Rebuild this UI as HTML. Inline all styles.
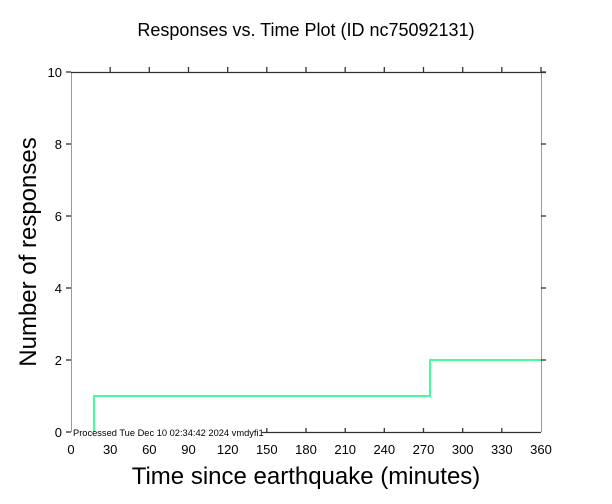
<html><head><style>body{margin:0;background:#fff}</style></head><body>
<svg width="612" height="504" xmlns="http://www.w3.org/2000/svg" font-family="Liberation Sans, sans-serif">
<rect width="612" height="504" fill="#fff"/>
<text x="306" y="36" font-size="18" text-anchor="middle">Responses vs. Time Plot (ID nc75092131)</text>
<line x1="71.5" y1="72" x2="71.5" y2="432" stroke="#999" stroke-width="1"/>
<line x1="541.5" y1="72" x2="541.5" y2="432" stroke="#999" stroke-width="1"/>
<line x1="71" y1="72.5" x2="546" y2="72.5" stroke="#333" stroke-width="1.2"/>
<line x1="262" y1="432.5" x2="541" y2="432.5" stroke="#333" stroke-width="1.2"/>
<g stroke="#333" stroke-width="1.3">
<line x1="110.2" y1="67" x2="110.2" y2="72"/><line x1="149.3" y1="67" x2="149.3" y2="72"/><line x1="188.5" y1="67" x2="188.5" y2="72"/><line x1="227.7" y1="67" x2="227.7" y2="72"/><line x1="266.8" y1="67" x2="266.8" y2="72"/><line x1="306" y1="67" x2="306" y2="72"/><line x1="345.2" y1="67" x2="345.2" y2="72"/><line x1="384.3" y1="67" x2="384.3" y2="72"/><line x1="423.5" y1="67" x2="423.5" y2="72"/><line x1="462.7" y1="67" x2="462.7" y2="72"/><line x1="501.8" y1="67" x2="501.8" y2="72"/><line x1="541" y1="67" x2="541" y2="72"/>
<line x1="266.8" y1="432" x2="266.8" y2="428"/><line x1="306" y1="432" x2="306" y2="428"/><line x1="345.2" y1="432" x2="345.2" y2="428"/><line x1="384.3" y1="432" x2="384.3" y2="428"/><line x1="423.5" y1="432" x2="423.5" y2="428"/><line x1="462.7" y1="432" x2="462.7" y2="428"/><line x1="501.8" y1="432" x2="501.8" y2="428"/>
<line x1="66" y1="72" x2="71" y2="72"/><line x1="66" y1="144" x2="71" y2="144"/><line x1="66" y1="216" x2="71" y2="216"/><line x1="66" y1="288" x2="71" y2="288"/><line x1="66" y1="360" x2="71" y2="360"/><line x1="66" y1="432" x2="71" y2="432"/>
<line x1="541" y1="72" x2="546" y2="72"/><line x1="541" y1="144" x2="546" y2="144"/><line x1="541" y1="216" x2="546" y2="216"/><line x1="541" y1="288" x2="546" y2="288"/><line x1="541" y1="360" x2="546" y2="360"/>
</g>
<polyline points="94,432 94,396 430,396 430,360 541,360" fill="none" stroke="#44ff99" stroke-width="2"/>
<text x="73" y="436" font-size="9.3">Processed Tue Dec 10 02:34:42 2024 vmdyfi1</text>
<g font-size="13" text-anchor="end">
<text x="62" y="77">10</text><text x="62" y="149">8</text><text x="62" y="221">6</text><text x="62" y="293">4</text><text x="62" y="365">2</text><text x="62" y="437">0</text>
</g>
<g font-size="13" text-anchor="middle">
<text x="71" y="454">0</text><text x="110.2" y="454">30</text><text x="149.3" y="454">60</text><text x="188.5" y="454">90</text><text x="227.7" y="454">120</text><text x="266.8" y="454">150</text><text x="306" y="454">180</text><text x="345.2" y="454">210</text><text x="384.3" y="454">240</text><text x="423.5" y="454">270</text><text x="462.7" y="454">300</text><text x="501.8" y="454">330</text><text x="541" y="454">360</text>
</g>
<text x="306" y="484" font-size="24" text-anchor="middle">Time since earthquake (minutes)</text>
<text transform="translate(36,252) rotate(-90)" font-size="24" text-anchor="middle">Number of responses</text>
</svg>
</body></html>
